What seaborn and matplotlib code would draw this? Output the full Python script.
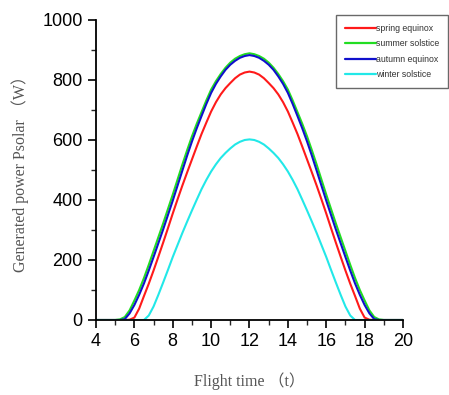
import numpy as np
import pandas as pd
import matplotlib
matplotlib.use("Agg")
import matplotlib.pyplot as plt
import seaborn as sns
from matplotlib.ticker import MultipleLocator
from matplotlib.lines import Line2D

hours = list(np.arange(4.0, 20.001, 0.25))

spring = [0, 0, 0, 0, 0, 0, 0, 1, 8, 38, 80, 121, 165, 211, 258, 306, 355, 402, 448, 492,
          535, 578, 620, 658, 695, 726, 752, 773, 790, 806, 818, 825, 828,
          825, 818, 806, 790, 773, 752, 726, 695, 658, 620, 578, 535, 492, 448, 402, 355,
          306, 258, 211, 165, 121, 80, 38, 8, 1, 0, 0, 0, 0, 0, 0, 0]
summer = [0, 0, 0, 0, 0, 2, 10, 32, 65, 100, 140, 184, 230, 276, 322, 370, 418, 468, 518,
          566, 612, 654, 693, 732, 768, 796, 820, 841, 858, 871, 880, 886, 889,
          886, 880, 871, 858, 841, 820, 796, 768, 732, 693, 654, 612, 566, 518, 468, 418,
          370, 322, 276, 230, 184, 140, 100, 65, 32, 10, 2, 0, 0, 0, 0, 0]
autumn = [0, 0, 0, 0, 0, 0, 3, 22, 50, 84, 122, 165, 210, 256, 302, 350, 398, 448, 498,
          548, 595, 639, 680, 720, 757, 787, 812, 834, 851, 864, 874, 880, 883,
          880, 874, 864, 851, 834, 812, 787, 757, 720, 680, 639, 595, 548, 498, 448, 398,
          350, 302, 256, 210, 165, 122, 84, 50, 22, 3, 0, 0, 0, 0, 0, 0]
winter = [0, 0, 0, 0, 0, 0, 0, 0, 0, 0, 0, 15, 45, 84, 125, 167, 210, 250, 290, 328, 365,
          401, 436, 467, 495, 519, 540, 557, 572, 585, 594, 600, 602,
          600, 594, 585, 572, 557, 540, 519, 495, 467, 436, 401, 365, 328, 290, 250, 210,
          167, 125, 84, 45, 15, 0, 0, 0, 0, 0, 0, 0, 0, 0, 0, 0]

series_names = ["spring equinox", "summer solstice", "autumn equinox", "winter solstice"]
colors = ["#ff1a1a", "#22dd22", "#1010cc", "#22e8e8"]

x_ticks = [4, 6, 8, 10, 12, 14, 16, 18, 20]
y_ticks = [0, 200, 400, 600, 800, 1000]

df = pd.concat([
    pd.DataFrame({"t": hours, "P": vals, "season": name})
    for name, vals in zip(series_names, [spring, summer, autumn, winter])
], ignore_index=True)

sns.set_style("ticks")
plt.rcParams["font.family"] = ["Liberation Sans", "DejaVu Sans"]

fig = plt.figure(figsize=(4.49, 3.95), dpi=100)
ax = fig.add_axes([96/449, 1-320/395, (403-96)/449, 300/395])

sns.lineplot(data=df, x="t", y="P", hue="season", hue_order=series_names,
             palette=colors, linewidth=1.5, ax=ax, legend=False)

ax.set_xlim(4, 20)
ax.set_ylim(0, 1000)
ax.set_xticks(x_ticks)
ax.set_yticks(y_ticks)
ax.xaxis.set_minor_locator(MultipleLocator(1))
ax.yaxis.set_minor_locator(MultipleLocator(100))
ax.tick_params(axis="both", which="major", direction="out", length=6, width=1.2,
               labelsize=13, colors="black")
ax.tick_params(axis="both", which="minor", direction="out", length=3.5, width=1.0)
for s in ["left", "bottom"]:
    ax.spines[s].set_linewidth(1.3)
    ax.spines[s].set_color("black")
sns.despine(ax=ax)

serif = ["Liberation Serif", "Noto Sans CJK SC"]
ax.set_xlabel("Flight time （t）", family=serif, fontsize=11.5, color="#555555", labelpad=16)
ax.set_ylabel("Generated power Psolar （W）", family=serif, fontsize=11.5, color="#555555",
              labelpad=10)

handles = [Line2D([0], [0], color=c, lw=1.6) for c in colors]
leg = fig.legend(handles, series_names, loc="upper right",
                 bbox_to_anchor=(448/449, 1-15/395), fontsize=6.3, frameon=True,
                 fancybox=False, handlelength=3.6, handletextpad=0.0,
                 labelspacing=0.75, borderpad=1.0, borderaxespad=0.0)
leg.get_frame().set_edgecolor("#444444")
leg.get_frame().set_linewidth(1.0)
for t in leg.get_texts():
    t.set_color("#333333")

fig.savefig("out.png", dpi=100)
